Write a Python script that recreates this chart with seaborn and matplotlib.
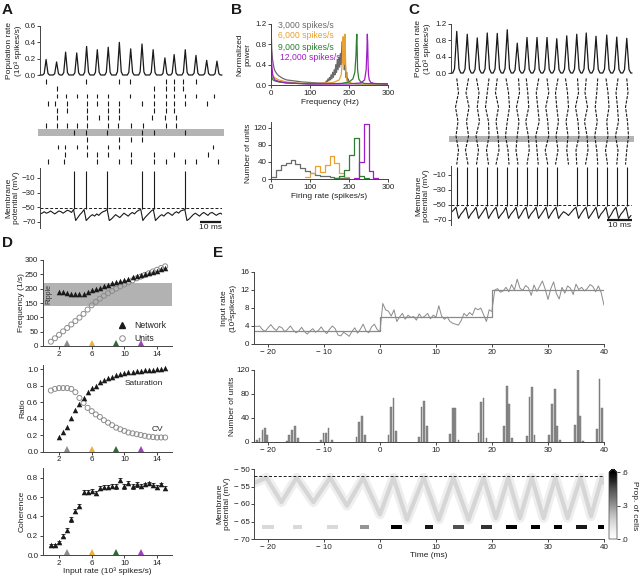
import numpy as np
import matplotlib
matplotlib.use("Agg")
import matplotlib.pyplot as plt
from matplotlib.lines import Line2D
from matplotlib.ticker import FuncFormatter
import seaborn as sns

W, H = 640, 579

sns.set_theme(style="ticks")
plt.rcParams['font.family'] = ['Liberation Sans', 'DejaVu Sans']
plt.rcParams.update({
    'font.size': 6.0, 'axes.linewidth': 0.7,
    'xtick.major.width': 0.7, 'ytick.major.width': 0.7,
    'xtick.major.size': 2.2, 'ytick.major.size': 2.2,
    'xtick.labelsize': 5.8, 'ytick.labelsize': 5.8, 'axes.labelsize': 6.0,
    'axes.edgecolor': '#444444', 'xtick.color': '#444444', 'ytick.color': '#444444',
    'xtick.labelcolor': '#222222', 'ytick.labelcolor': '#222222',
    'axes.labelcolor': '#222222', 'text.color': '#222222',
    'xtick.major.pad': 1.2, 'ytick.major.pad': 1.0, 'axes.labelpad': 1.5,
})

GRAY = '#6a6a6a'
ORANGE = '#E8A030'
GREEN = '#2E7D32'
PURPLE = '#A21CC8'
CIRC = '#8c8c8c'

# ---------------- donnees panneau A ----------------
A_PEAK_T = [2.9, 7.9, 12.2, 17.5, 22.2, 27.3, 32.5, 37.8, 43.2, 48.6, 53.9, 59.5, 63.9, 69.2, 74.3, 79.4, 84.3]
A_PEAK_H = [0.19, 0.16, 0.28, 0.27, 0.35, 0.31, 0.34, 0.40, 0.32, 0.38, 0.31, 0.21, 0.25, 0.31, 0.24, 0.18, 0.17]
A_T_END = 86.7
# forme d'un pic
PEAK_DT = [-1.6, -0.9, -0.4, 0.0, 0.4, 0.9, 1.6]
PEAK_FRAC = [0.0, 0.1, 0.6, 1.0, 0.6, 0.1, 0.0]

A_RASTER = [
    [2.9, 21.9, 37.6, 43.0, 59.8, 63.9, 68.1, 74.3],
    [7.9, 54.4, 59.8, 63.9, 68.1],
    [7.9, 12.2, 17.5, 22.2, 27.3, 32.5, 43.0, 54.4, 59.8, 63.9, 69.2, 74.3, 82.9],
    [4.0, 7.1, 12.7, 22.2, 27.3, 32.5, 37.6, 48.4, 54.4, 59.8, 63.9, 69.2, 79.4],
    [7.9, 12.7, 22.2, 32.5, 37.6, 54.4, 59.8, 63.9],
    [7.9, 22.2, 28.1, 32.5, 37.6, 53.5, 59.5, 64.6],
    [2.9, 7.9, 12.7, 17.5, 22.2, 32.5, 37.3, 43.2, 49.2, 59.8, 64.6],
    [16.3, 21.9, 32.1, 48.4, 54.2, 69.2],
    [22.2, 37.6, 43.2, 48.4],
    [8.7, 11.9, 17.5, 22.2, 32.5, 37.6, 82.5],
    [11.9, 22.2, 27.0, 32.5, 43.2, 54.4, 63.9, 79.8],
    [3.6, 11.4, 27.0, 37.6, 43.2, 54.4, 59.8, 69.2, 74.3, 84.6],
]
A_BAND_ROW = 7

A_VM = [-59, -58, -56, -58, -57, -55, -57, -59, -57, -55, -56, -58, -56, -54, -55, -57, -53,
        -68, -64, -60, -57, -53,
        -68, -65, -62, -60, -62, -59, -61, -58, -56, -55, -53,
        -68, -66, -63, -60, -62, -64, -61, -58, -60, -62, -59, -57, -59, -56, -54, -53,
        -68, -64, -61, -58, -55, -53,
        -68, -65, -62, -60, -62, -59, -57, -59, -61, -58, -56, -58, -55, -54, -53,
        -68, -66, -63, -60, -58, -60, -62, -59, -57, -59, -61, -58, -57, -59, -61, -59, -58, -60]
A_SPIKE_T = [16.3, 21.9, 32.1, 48.4, 54.2, 69.2]

# ---------------- donnees panneau B ----------------
B_GRAY_F = [0, 1, 2, 4, 6, 8, 10, 15, 20, 30, 40, 50, 60, 80, 100, 120, 138,
            140, 142, 144, 146, 148, 150, 152, 154, 156, 158, 160, 162, 164, 166, 168, 170, 172,
            174, 176, 178, 180, 182, 184, 186, 188, 190, 192, 194, 196, 198, 200, 202, 204, 206,
            220, 250, 300]
B_GRAY_P = [1.2, 0.95, 0.7, 0.5, 0.4, 0.33, 0.28, 0.22, 0.18, 0.13, 0.1, 0.09, 0.08, 0.06, 0.05, 0.04, 0.04,
            0.05, 0.08, 0.06, 0.12, 0.08, 0.15, 0.1, 0.2, 0.12, 0.25, 0.15, 0.3, 0.2, 0.4, 0.25, 0.5, 0.3,
            0.55, 0.35, 0.62, 0.4, 0.85, 0.45, 0.9, 0.3, 0.5, 0.15, 0.25, 0.08, 0.12, 0.05, 0.06, 0.04, 0.03,
            0.02, 0.02, 0.02]
B_ORANGE_F = [0, 2, 5, 10, 20, 40, 80, 120, 160, 175, 180, 183, 185, 186, 187, 188, 189, 190, 191, 192,
              193, 195, 200, 210, 250, 300]
B_ORANGE_P = [0.5, 0.25, 0.18, 0.14, 0.1, 0.06, 0.03, 0.03, 0.05, 0.1, 0.2, 0.45, 0.95, 0.6, 0.4, 0.5,
              0.85, 1.0, 0.55, 0.3, 0.15, 0.08, 0.05, 0.03, 0.02, 0.02]
B_GREEN_F = [0, 2, 5, 10, 20, 40, 100, 180, 200, 210, 215, 218, 219, 220, 221, 222, 225, 230, 240, 300]
B_GREEN_P = [0.4, 0.15, 0.1, 0.08, 0.06, 0.04, 0.02, 0.03, 0.06, 0.12, 0.25, 0.6, 0.85, 1.0, 0.7, 0.3,
             0.12, 0.06, 0.03, 0.02]
B_PURPLE_F = [0, 0.5, 1, 2, 4, 6, 10, 20, 40, 100, 200, 230, 240, 244, 246, 247, 248, 249, 250, 252,
              256, 265, 300]
B_PURPLE_P = [1.2, 1.0, 0.7, 0.4, 0.22, 0.15, 0.1, 0.07, 0.04, 0.02, 0.02, 0.04, 0.1, 0.3, 0.7, 1.0,
              0.8, 0.4, 0.2, 0.1, 0.05, 0.03, 0.02]
B_LABELS = ['3,000 spikes/s', '6,000 spikes/s', '9,000 spikes/s', '12,000 spikes/s']

B_GRAY_EDGES = [0, 12.5, 25, 37.5, 50, 62.5, 75, 87.5, 100, 112.5, 125, 137.5, 150, 162.5, 175, 187.5, 200]
B_GRAY_N = [5, 22, 32, 38, 45, 36, 26, 18, 14, 10, 6, 8, 5, 3, 3, 2]
B_ORANGE_EDGES = [87.5, 100, 112.5, 125, 137.5, 150, 162.5, 175, 187.5, 200]
B_ORANGE_N = [5, 15, 30, 16, 32, 54, 37, 14, 4]
B_GREEN_EDGES = [162.5, 175, 187.5, 200, 212.5, 225, 237.5, 250]
B_GREEN_N = [3, 8, 22, 56, 96, 8, 3]
B_PURPLE_EDGES = [212.5, 225, 237.5, 250, 262.5, 275]
B_PURPLE_N = [3, 40, 130, 18, 3]

# ---------------- donnees panneau C ----------------
C_PEAK_T = [2.3, 6.5, 10.5, 14.5, 18.5, 22.5, 26.5, 30.4, 34.4, 38.4, 42.3, 46.3, 50.3, 54.1, 58.0, 62.3, 66.3, 70.3]
C_PEAK_H = [1.02, 0.95, 0.86, 0.98, 0.97, 1.06, 0.73, 0.87, 0.87, 0.87, 0.84, 0.91, 0.95, 0.98, 0.90, 0.93, 0.88, 0.85]
C_T_END = 72.4
C_RASTER_ROWS = [0, 5, 10, 15, 20, 25, 30]
C_RASTER_SHIFT = [
    [0.0, 0.7, -0.5, 0.5, -0.3, 0.7, 0.0],
    [0.5, -0.5, 0.7, -0.3, 0.5, -0.7, 0.3],
    [-0.3, 0.7, 0.0, 0.9, -0.5, 0.5, -0.3],
    [0.7, 0.0, -0.7, 0.5, 0.7, -0.3, 0.5],
    [0.0, -0.7, 0.5, -0.5, 0.3, 0.7, -0.5],
    [-0.5, 0.5, 0.9, 0.0, -0.7, 0.3, 0.7],
    [0.5, 0.9, -0.3, 0.7, 0.0, -0.5, 0.3],
    [-0.3, 0.3, 0.7, -0.5, 0.5, 0.9, 0.0],
    [0.7, -0.3, 0.3, 0.9, -0.5, 0.0, 0.5],
    [0.0, 0.7, -0.5, 0.3, 0.7, -0.7, 0.3],
    [0.5, -0.5, 0.0, 0.7, -0.3, 0.5, -0.5],
    [-0.5, 0.3, 0.7, -0.3, 0.5, 0.0, 0.7],
    [0.3, 0.7, -0.5, 0.5, 0.9, -0.3, 0.0],
    [0.0, -0.5, 0.5, -0.7, 0.3, 0.7, -0.3],
    [0.7, 0.3, -0.3, 0.5, -0.5, 0.3, 0.7],
    [-0.3, 0.5, 0.9, 0.0, 0.5, -0.5, 0.3],
    [0.5, -0.3, 0.3, 0.7, -0.5, 0.5, 0.0],
    [0.0, 0.5, -0.5, 0.3, 0.7, 0.0, -0.5],
]
C_BAND_ROW = 21

C_VM = [-60, -57, -53,
        -68, -62, -58, -53, -68, -62, -58, -53, -68, -63, -58, -53, -68, -62, -57, -53,
        -68, -63, -59, -53, -68, -62, -58, -53, -68, -63, -57, -53, -68, -62, -58, -53,
        -68, -63, -58, -53, -68, -62, -57, -53,
        -68, -63, -59, -61, -64, -60, -56, -53,
        -68, -62, -57, -53, -68, -63, -58, -53, -68, -62, -58, -53, -68, -63, -57, -53,
        -68, -62, -58, -53, -68, -64]
C_SPIKE_T = [2.5, 6.5, 10.5, 14.5, 18.5, 22.5, 26.5, 30.5, 34.5, 38.5, 42.3, 50.5, 54.3, 58.3, 62.3, 66.3, 70.3]

# ---------------- donnees panneau D ----------------
D_INPUT = [1.0, 1.5, 2.0, 2.5, 3.0, 3.5, 4.0, 4.5, 5.0, 5.5, 6.0, 6.5, 7.0, 7.5, 8.0, 8.5, 9.0,
           9.5, 10.0, 10.5, 11.0, 11.5, 12.0, 12.5, 13.0, 13.5, 14.0, 14.5, 15.0]
D_NET_FREQ = [188, 187, 185, 182, 181, 181, 183, 188, 194, 199, 204, 209, 214, 219, 223, 227, 231,
              235, 239, 243, 247, 251, 255, 259, 263, 268, 272]          # de 2 a 15
D_UNIT_FREQ = [15, 27, 39, 51, 63, 75, 87, 99, 112, 127, 142, 154, 165, 175, 184, 192, 200, 208,
               215, 222, 229, 236, 242, 248, 254, 260, 266, 272, 278]
D_SATURATION = [0.18, 0.24, 0.30, 0.41, 0.50, 0.58, 0.65, 0.72, 0.77, 0.80, 0.84, 0.87, 0.89, 0.91,
                0.93, 0.94, 0.95, 0.96, 0.97, 0.975, 0.98, 0.985, 0.99, 0.995, 1.0, 1.0, 1.01]  # de 2 a 15
D_CV = [0.74, 0.76, 0.77, 0.77, 0.77, 0.76, 0.72, 0.65, 0.59, 0.53, 0.49, 0.45, 0.42, 0.38, 0.35,
        0.32, 0.29, 0.27, 0.25, 0.23, 0.22, 0.21, 0.20, 0.19, 0.18, 0.175, 0.17, 0.17, 0.17]
D_COHERENCE = [0.10, 0.10, 0.13, 0.20, 0.26, 0.37, 0.455, 0.51, 0.655, 0.65, 0.66, 0.64, 0.69, 0.70,
               0.70, 0.71, 0.71, 0.78, 0.71, 0.75, 0.71, 0.73, 0.71, 0.73, 0.74, 0.72, 0.70, 0.73, 0.69]
D_COH_ERR = [0.01, 0.01, 0.01, 0.015, 0.02, 0.025, 0.02, 0.015, 0.02, 0.02, 0.02, 0.02, 0.02, 0.02,
             0.02, 0.02, 0.025, 0.02, 0.025, 0.02, 0.025, 0.025, 0.02, 0.02, 0.02, 0.02, 0.02, 0.02, 0.02]
D_MARK_X = [3, 6, 9, 12]
D_MARK_C = ['#8c8c8c', '#F0B040', '#2E6B30', '#A040C0']
RIPPLE_LO, RIPPLE_HI = 140, 220

# ---------------- donnees panneau E ----------------
E_RATE_1 = [4.0, 3.9, 4.0, 3.2, 2.8, 3.6, 4.3, 3.5, 3.0, 3.9, 3.6, 2.7, 3.3, 4.0, 3.1, 2.5, 2.9, 3.7,
            2.8, 2.2, 2.9, 3.4, 2.6, 3.0, 3.8, 2.9, 2.3, 3.3, 4.0, 3.4, 2.0, 1.8, 2.6, 2.2, 1.7, 2.8,
            3.6, 2.4, 3.3, 4.4, 2.9, 2.5, 3.8, 4.4, 3.2, 2.8]
E_RATE_2 = [2.8, 9.0, 7.6, 7.3, 6.2, 7.6, 5.0, 6.0, 6.8, 5.5, 6.4, 5.9, 6.1, 5.3, 6.7, 5.8, 6.2, 6.8,
            5.6, 6.4, 6.0, 8.5, 6.2, 5.5, 6.0, 5.0, 4.6, 4.4, 4.2, 5.2, 6.8, 6.2, 7.0, 6.4, 8.0, 7.6,
            8.0, 6.5, 5.0, 7.6, 7.2]
E_RATE_3 = [7.5, 12.0, 12.3, 11.5, 11.8, 12.6, 11.6, 13.2, 12.0, 14.4, 12.4, 11.9, 13.0, 12.5, 10.8,
            13.1, 11.7, 12.8, 14.0, 12.2, 9.9, 12.3, 13.8, 11.2, 10.0, 12.6, 11.3, 12.9, 12.4, 11.0,
            13.3, 12.1, 12.6, 11.8, 12.3, 13.2, 12.8, 11.6, 12.9, 11.4, 8.6]
E_STEP_T = [-22.5, 0, 0, 20, 20, 40]
E_STEP_V = [3, 3, 6, 6, 12, 12]

E_BIN_T = [-22.0, -21.5, -21.0, -20.6, -20.2, -16.6, -16.2, -15.7, -15.2, -14.7,
           -10.6, -10.1, -9.6, -9.2, -8.6, -4.2, -3.7, -3.2, -2.7, 1.5, 2.0, 2.4, 2.9,
           6.9, 7.4, 7.8, 8.4, 12.5, 13.0, 13.4, 14.0, 17.6, 18.1, 18.5, 19.0,
           22.2, 22.7, 23.1, 23.6, 26.2, 26.7, 27.2, 27.6, 30.2, 30.7, 31.2, 31.6, 32.1,
           34.8, 35.3, 35.7, 36.2, 38.7, 39.2, 39.7]
E_BIN_N = [3, 6, 20, 24, 12, 1, 12, 20, 27, 6, 4, 15, 15, 23, 4, 9, 34, 44, 11, 12, 58, 73, 19,
           8, 58, 69, 26, 14, 56, 56, 3, 15, 66, 73, 7, 26, 94, 64, 6, 10, 75, 92, 11,
           11, 64, 88, 27, 4, 29, 120, 44, 2, 21, 105, 56]

E_RIDGE_T = [-22.5, -20.3, -17.6, -14.9, -11.9, -8.9, -5.9, -3.0, 0.0, 2.4, 4.8, 7.8, 10.5, 13.1,
             15.8, 18.5, 20.7, 22.9, 25.0, 27.1, 29.2, 31.3, 33.5, 35.8, 37.7, 39.6, 40.0]
E_RIDGE_V = [-54, -52.5, -59.5, -52.5, -59.5, -52.5, -60.5, -52.5, -63, -52.5, -64.5, -52.5, -64.5,
             -52.5, -64.5, -52.5, -64, -52.5, -64, -52.5, -64, -52.5, -64, -52.5, -63.5, -52.5, -54]
E_SPOT_T = [-20.0, -14.6, -8.5, -2.7, 3.0, 8.6, 14.0, 19.0, 23.5, 27.7, 31.8, 36.0, 39.8]
E_SPOT_P = [0.15, 0.15, 0.15, 0.3, 0.6, 0.55, 0.45, 0.5, 0.6, 0.6, 0.6, 0.55, 0.6]
E_SPOT_V = (-67.0, -66.0)


# ---------------- utilitaires ----------------
fig = plt.figure(figsize=(W / 100, H / 100), dpi=100)


def add_ax(x0, y0, x1, y1):
    return fig.add_axes([x0 / W, 1 - y1 / H, (x1 - x0) / W, (y1 - y0) / H])


def peak_trace(times, heights, t_end):
    xs, ys = [0.0], [0.0]
    for t, h in zip(times, heights):
        for dt, f in zip(PEAK_DT, PEAK_FRAC):
            xs.append(t + dt)
            ys.append(h * f)
    xs.append(t_end)
    ys.append(0.0)
    return xs, ys


def line(ax, x, y, **kw):
    sns.lineplot(x=list(x), y=list(y), ax=ax, sort=False, estimator=None, **kw)


def only_left(ax):
    ax.spines[['top', 'right', 'bottom']].set_visible(False)
    ax.set_xticks([])


def left_bottom(ax):
    ax.spines[['top', 'right']].set_visible(False)


def minus_fmt(v, pos):
    return f"\u2212 {abs(v):g}" if v < 0 else f"{v:g}"


# ---------------- A ----------------
ax = add_ax(40, 26, 222, 75)
xs, ys = peak_trace(A_PEAK_T, A_PEAK_H, A_T_END)
line(ax, xs, ys, color='k', lw=0.9)
for l in ax.lines:
    l.set_clip_on(False)
ax.set_xlim(0, A_T_END)
ax.set_ylim(0, 0.6)
ax.set_yticks([0, 0.2, 0.4, 0.6], ['0.0', '0.2', '0.4', '0.6'])
only_left(ax)
ax.set_ylabel('Population rate\n(10³ spikes/s)')
ax.yaxis.set_label_coords(-0.1, 0.5)

ax = add_ax(38, 77, 224, 166)
ax.axhspan(A_BAND_ROW - 0.42, A_BAND_ROW + 0.42, color='#b4b4b4', lw=0)
for r, times in enumerate(A_RASTER):
    ax.vlines(times, r - 0.33, r + 0.33, color='k', lw=0.8)
ax.set_xlim(-0.95, 87.6)
ax.set_ylim(11.6, -0.6)
ax.axis('off')

ax = add_ax(40, 168, 222, 228)
line(ax, np.linspace(0, 87, len(A_VM)), A_VM, color='k', lw=0.8)
ax.vlines(A_SPIKE_T, -52, 0, color='k', lw=0.8)
ax.axhline(-50.5, ls=(0, (3, 2)), color='k', lw=0.7)
ax.plot([76.2, 86.2], [-70, -70], color='k', lw=1.6, clip_on=False, solid_capstyle='butt')
ax.text(81.2, -78, '10 ms', ha='center', va='center')
ax.set_xlim(0, A_T_END)
ax.set_ylim(-78.2, 3.6)
ax.set_yticks([-10, -30, -50, -70])
only_left(ax)
ax.set_ylabel('Membrane\npotential (mV)')
ax.yaxis.set_label_coords(-0.11, 0.5)

# ---------------- B ----------------
ax = add_ax(271, 24, 388, 85)
for f, p, c in [(B_GRAY_F, B_GRAY_P, GRAY), (B_ORANGE_F, B_ORANGE_P, ORANGE),
                (B_GREEN_F, B_GREEN_P, GREEN), (B_PURPLE_F, B_PURPLE_P, PURPLE)]:
    line(ax, f, p, color=c, lw=0.9)
ax.set_xlim(0, 300)
ax.set_ylim(0, 1.2)
ax.set_xticks([0, 100, 200, 300])
ax.set_yticks([0, 0.4, 0.8, 1.2], ['0.0', '0.4', '0.8', '1.2'])
left_bottom(ax)
ax.set_xlabel('Frequency (Hz)')
ax.set_ylabel('Normalized\npower')
ax.yaxis.set_label_coords(-0.165, 0.5)
for (xp, yp), lab, c in zip([(278, 25), (278, 36), (278, 47), (280, 58)], B_LABELS,
                            [GRAY, ORANGE, GREEN, PURPLE]):
    fig.text(xp / W, 1 - yp / H, lab, color=c, va='center', ha='left', fontsize=6.2)

ax = add_ax(271, 121.6, 388, 179)
for edges, counts, c in [(B_GRAY_EDGES, B_GRAY_N, GRAY), (B_ORANGE_EDGES, B_ORANGE_N, ORANGE),
                         (B_GREEN_EDGES, B_GREEN_N, GREEN), (B_PURPLE_EDGES, B_PURPLE_N, PURPLE)]:
    centers = [(a + b) / 2 for a, b in zip(edges[:-1], edges[1:])]
    sns.histplot(x=centers, weights=counts, bins=edges, element='step', fill=False,
                 color=c, lw=0.9, ax=ax)
ax.set_xlim(0, 300)
ax.set_ylim(0, 135)
ax.set_xticks([0, 100, 200, 300])
ax.set_yticks([0, 40, 80, 120])
left_bottom(ax)
ax.set_xlabel('Firing rate (spikes/s)')
ax.set_ylabel('Number of units')
ax.yaxis.set_label_coords(-0.165, 0.45)

# ---------------- C ----------------
ax = add_ax(451, 24, 632, 73)
xs, ys = peak_trace(C_PEAK_T, C_PEAK_H, C_T_END)
line(ax, xs, ys, color='k', lw=0.9)
for l in ax.lines:
    l.set_clip_on(False)
ax.set_xlim(0, C_T_END)
ax.set_ylim(0, 1.2)
ax.set_yticks([0, 0.4, 0.8, 1.2], ['0.0', '0.4', '0.8', '1.2'])
only_left(ax)
ax.set_ylabel('Population rate\n(10³ spikes/s)')
ax.yaxis.set_label_coords(-0.11, 0.5)

ax = add_ax(449, 77, 634, 166)
ax.axhspan(C_BAND_ROW - 1.05, C_BAND_ROW + 1.05, color='#b4b4b4', lw=0)
for t0, shifts in zip(C_PEAK_T, C_RASTER_SHIFT):
    ax.plot([t0 + s for s in shifts], C_RASTER_ROWS, color='k', lw=0.8, ls=(0, (2.8, 1.2)))
ax.set_xlim(-0.8, 73.2)
ax.set_ylim(30.5, -0.5)
ax.axis('off')

ax = add_ax(451, 166, 632, 225)
line(ax, np.linspace(0, 72, len(C_VM)), C_VM, color='k', lw=0.8)
ax.vlines(C_SPIKE_T, -52, 0, color='k', lw=0.8)
ax.axhline(-50, ls=(0, (3, 2)), color='k', lw=0.7)
ax.plot([62.4, 72.4], [-70, -70], color='k', lw=1.6, clip_on=False, solid_capstyle='butt')
ax.text(67.4, -77.5, '10 ms', ha='center', va='center')
ax.set_xlim(0, C_T_END)
ax.set_ylim(-76.7, 2)
ax.set_yticks([-10, -30, -50, -70])
only_left(ax)
ax.set_ylabel('Membrane\npotential (mV)')
ax.yaxis.set_label_coords(-0.115, 0.5)

# ---------------- D ----------------
def axis_marks(ax, ytop):
    for x, c in zip(D_MARK_X, D_MARK_C):
        ax.plot(x, ytop * 0.03, marker='^', ms=3.8, color=c, mew=0, clip_on=False, zorder=5)


net_x = D_INPUT[2:]

ax = add_ax(42.7, 260, 171.7, 346)
ax.axhspan(RIPPLE_LO, RIPPLE_HI, color='#b2b2b2', lw=0, zorder=0)
sns.scatterplot(x=D_INPUT, y=D_UNIT_FREQ, ax=ax, marker='o', s=13, facecolor='none',
                edgecolor=CIRC, linewidth=0.7, zorder=3)
sns.scatterplot(x=net_x, y=D_NET_FREQ, ax=ax, marker='^', s=16, color='k', linewidth=0, zorder=4)
ax.text(0.75, 180, 'Ripple', rotation=90, ha='center', va='center', fontsize=5, color='#333333')
axis_marks(ax, 300)
ax.set_xlim(0, 15.8)
ax.set_ylim(0, 300)
ax.set_xticks([2, 6, 10, 14])
ax.set_yticks([0, 50, 100, 150, 200, 250, 300])
left_bottom(ax)
ax.set_ylabel('Frequency (1/s)')
ax.yaxis.set_label_coords(-0.14, 0.5)
handles = [Line2D([], [], marker='^', color='k', ls='', ms=4),
           Line2D([], [], marker='o', mfc='none', mec=CIRC, ls='', ms=4, mew=0.7)]
ax.legend(handles, ['Network', 'Units'], loc='upper left', bbox_to_anchor=(0.54, 0.34),
          frameon=False, handletextpad=0.9, labelspacing=0.45, fontsize=6.2, borderpad=0,
          handlelength=1.2)

ax = add_ax(42.7, 365, 171.7, 451.5)
sns.scatterplot(x=D_INPUT, y=D_CV, ax=ax, marker='o', s=13, facecolor='none',
                edgecolor=CIRC, linewidth=0.7, zorder=3)
sns.scatterplot(x=net_x, y=D_SATURATION, ax=ax, marker='^', s=16, color='k', linewidth=0, zorder=4)
ax.text(12.4, 0.82, 'Saturation', ha='center', va='center')
ax.text(14.1, 0.27, 'CV', ha='center', va='center')
axis_marks(ax, 1.05)
ax.set_xlim(0, 15.8)
ax.set_ylim(0, 1.05)
ax.set_xticks([2, 6, 10, 14])
ax.set_yticks([0, 0.2, 0.4, 0.6, 0.8, 1.0], ['0.0', '0.2', '0.4', '0.6', '0.8', '1.0'])
left_bottom(ax)
ax.set_ylabel('Ratio')
ax.yaxis.set_label_coords(-0.13, 0.5)

ax = add_ax(42.7, 468, 171.7, 555)
ax.errorbar(D_INPUT, D_COHERENCE, yerr=D_COH_ERR, fmt='none', ecolor='k', elinewidth=0.6,
            capsize=1.2, capthick=0.6, zorder=3)
sns.scatterplot(x=D_INPUT, y=D_COHERENCE, ax=ax, marker='^', s=16, color='k', linewidth=0, zorder=4)
axis_marks(ax, 0.9)
ax.set_xlim(0, 15.8)
ax.set_ylim(0, 0.9)
ax.set_xticks([2, 6, 10, 14])
ax.set_yticks([0, 0.2, 0.4, 0.6, 0.8], ['0.0', '0.2', '0.4', '0.6', '0.8'])
left_bottom(ax)
ax.set_ylabel('Coherence')
ax.yaxis.set_label_coords(-0.13, 0.5)
ax.set_xlabel('Input rate (10³ spikes/s)', labelpad=0.5)

# ---------------- E ----------------
E_XT = [-20, -10, 0, 10, 20, 30, 40]

ax = add_ax(254, 272, 604, 344)
for seg, (a, b) in zip([E_RATE_1, E_RATE_2, E_RATE_3], [(-22.5, 0), (0, 20), (20, 40)]):
    line(ax, np.linspace(a, b, len(seg)), seg, color='#8a8a8a', lw=0.7)
line(ax, E_STEP_T, E_STEP_V, color='#8a8a8a', lw=0.9)
ax.set_xlim(-22.5, 40)
ax.set_ylim(0, 16)
ax.set_xticks(E_XT)
ax.set_yticks([0, 4, 8, 12, 16])
ax.xaxis.set_major_formatter(FuncFormatter(minus_fmt))
left_bottom(ax)
ax.set_ylabel('Input rate\n(10³spikes/s)')
ax.yaxis.set_label_coords(-0.05, 0.5)

ax = add_ax(254, 370, 604, 442)
ax.bar(E_BIN_T, E_BIN_N, width=0.32, color='#8c8c8c', edgecolor='#6a6a6a', linewidth=0.3)
ax.set_xlim(-22.5, 40)
ax.set_ylim(0, 120)
ax.set_xticks(E_XT)
ax.set_yticks([0, 40, 80, 120])
ax.xaxis.set_major_formatter(FuncFormatter(minus_fmt))
left_bottom(ax)
ax.set_ylabel('Number of units')
ax.yaxis.set_label_coords(-0.052, 0.5)

ax = add_ax(254, 469, 604, 539)
t_edges = np.arange(-22.5, 40.01, 0.5)
v_edges = np.arange(-70, -49.99, 0.5)
tc = (t_edges[:-1] + t_edges[1:]) / 2
vc = (v_edges[:-1] + v_edges[1:]) / 2
Z = np.zeros((len(vc), len(tc)))
for ts, p in zip(E_SPOT_T, E_SPOT_P):
    cols = (tc >= ts - 0.8) & (tc <= ts + 0.8)
    rows = (vc >= E_SPOT_V[0]) & (vc <= E_SPOT_V[1])
    Z[np.ix_(rows, cols)] = p
line(ax, E_RIDGE_T, E_RIDGE_V, color='#efefef', lw=7)
line(ax, E_RIDGE_T, E_RIDGE_V, color='#d6d6d6', lw=3.0)
mesh = ax.pcolormesh(t_edges, v_edges, np.ma.masked_equal(Z, 0), cmap='Greys', vmin=0, vmax=0.6,
                     zorder=3)
ax.axhline(-52, ls=(0, (3, 2)), color='k', lw=0.7, zorder=4)
ax.set_xlim(-22.5, 40)
ax.set_ylim(-70, -50)
ax.set_xticks(E_XT)
ax.set_yticks([-70, -65, -60, -55, -50])
ax.xaxis.set_major_formatter(FuncFormatter(minus_fmt))
ax.yaxis.set_major_formatter(FuncFormatter(minus_fmt))
left_bottom(ax)
ax.set_xlabel('Time (ms)', labelpad=1)
ax.set_ylabel('Membrane\npotential (mV)')
ax.yaxis.set_label_coords(-0.066, 0.5)

cax = add_ax(609, 469, 617, 539)
cb = fig.colorbar(mesh, cax=cax, extend='max', ticks=[0, 0.3, 0.6])
cb.ax.set_yticklabels(['.0', '.3', '.6'])
cb.outline.set_linewidth(0.5)
cb.set_label('Prop. of cells', rotation=270, labelpad=7)

# ---------------- lettres ----------------
for (xp, yp), lab in zip([(2, 3), (231, 3), (408, 3), (2, 236), (213, 246)], 'ABCDE'):
    fig.text(xp / W, 1 - yp / H, lab, fontsize=11, fontweight='bold', va='top', ha='left',
             color='k')

fig.savefig('out.png', dpi=100)
